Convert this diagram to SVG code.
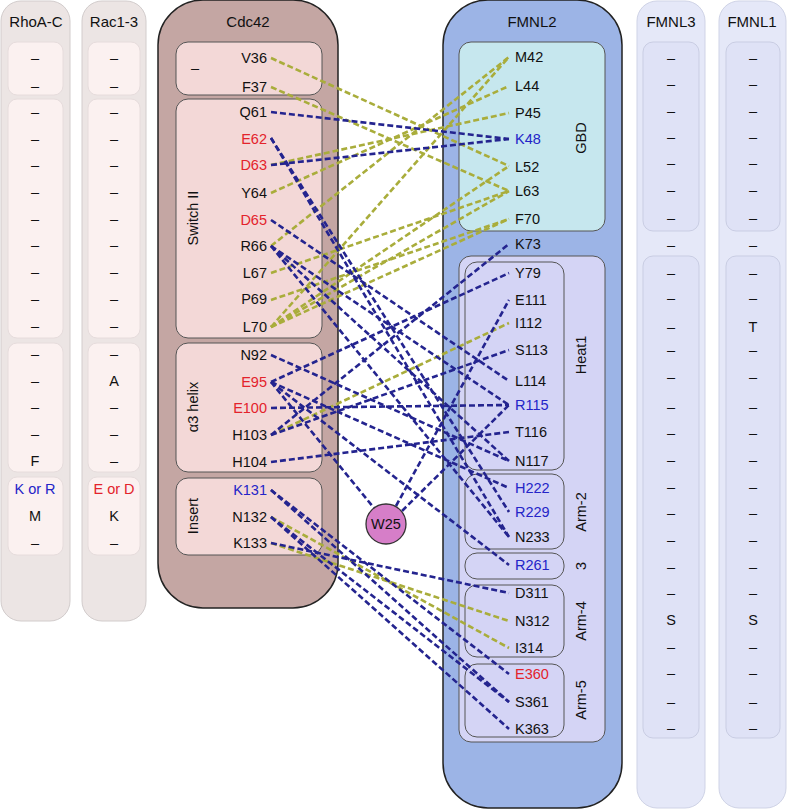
<svg xmlns="http://www.w3.org/2000/svg" width="788" height="810" viewBox="0 0 788 810">
<style>
text{font-family:"Liberation Sans",Arial,sans-serif;font-size:14.5px;fill:#111}
.t{text-anchor:middle}
.r{text-anchor:end}
.ttl{font-size:15px}
.red{fill:#e3232b}
.blu{fill:#2424c8}
.side{fill:#ece5e4;stroke:#d2cccc;stroke-width:1}
.sidein{fill:#fbf1f0;stroke:#e6dcdc;stroke-width:1}
.sideB{fill:#e5e8f8;stroke:#cfd3e6;stroke-width:1}
.sideBin{fill:#dfe2f6;stroke:#c9cde3;stroke-width:1}
.cdc{fill:#c4a6a3;stroke:#222;stroke-width:1.5}
.cin{fill:#f3d8d7;stroke:#555;stroke-width:1}
.fm{fill:#9cb4e6;stroke:#222;stroke-width:1.5}
.gbd{fill:#c6e7ee;stroke:#555;stroke-width:1}
.lav{fill:#d4d4f5;stroke:#555;stroke-width:1}
.sub{fill:none;stroke:#555;stroke-width:1}
.y{stroke:#a9ad3b;stroke-width:2.6;stroke-dasharray:6 3;fill:none}
.b{stroke:#24248f;stroke-width:2.6;stroke-dasharray:6 3;fill:none}
</style>

<g id="RhoA-C">
<rect class="side" x="1" y="1" width="69" height="620" rx="20"/>
<text class="t ttl" x="36" y="27">RhoA-C</text>
<rect class="sidein" x="8" y="42" width="55" height="53" rx="9"/>
<rect class="sidein" x="8" y="99" width="55" height="239" rx="9"/>
<rect class="sidein" x="8" y="343" width="55" height="129" rx="9"/>
<rect class="sidein" x="8" y="477" width="55" height="78" rx="9"/>
<g class="t">
<text x="35" y="63">–</text><text x="35" y="91">–</text><text x="35" y="117">–</text><text x="35" y="144">–</text><text x="35" y="170">–</text><text x="35" y="197">–</text><text x="35" y="224">–</text><text x="35" y="250">–</text><text x="35" y="277">–</text><text x="35" y="304">–</text><text x="35" y="331">–</text><text x="35" y="359">–</text><text x="35" y="386">–</text><text x="35" y="412">–</text><text x="35" y="439">–</text><text x="35" y="466">F</text><text x="35" y="494" class="t blu">K or R</text><text x="35" y="521">M</text><text x="35" y="548">–</text>
</g>
</g>

<g id="Rac1-3">
<rect class="side" x="82" y="1" width="64" height="620" rx="20"/>
<text class="t ttl" x="114" y="27">Rac1-3</text>
<rect class="sidein" x="88" y="42" width="52" height="53" rx="9"/>
<rect class="sidein" x="88" y="99" width="52" height="239" rx="9"/>
<rect class="sidein" x="88" y="343" width="52" height="129" rx="9"/>
<rect class="sidein" x="88" y="477" width="52" height="78" rx="9"/>
<g class="t">
<text x="114" y="63">–</text><text x="114" y="91">–</text><text x="114" y="117">–</text><text x="114" y="144">–</text><text x="114" y="170">–</text><text x="114" y="197">–</text><text x="114" y="224">–</text><text x="114" y="250">–</text><text x="114" y="277">–</text><text x="114" y="304">–</text><text x="114" y="331">–</text><text x="114" y="359">–</text><text x="114" y="386">A</text><text x="114" y="412">–</text><text x="114" y="439">–</text><text x="114" y="466">–</text><text x="114" y="494" class="t red">E or D</text><text x="114" y="521">K</text><text x="114" y="548">–</text>
</g>
</g>

<g id="Cdc42">
<rect class="cdc" x="158" y="0" width="180" height="608" rx="45"/>
<text class="t ttl" x="248" y="27">Cdc42</text>
<rect class="cin" x="176" y="42" width="146" height="53" rx="12"/>
<rect class="cin" x="176" y="99" width="146" height="239" rx="12"/>
<rect class="cin" x="176" y="343" width="146" height="129" rx="12"/>
<rect class="cin" x="176" y="478" width="146" height="77" rx="12"/>
<text class="t" x="195" y="73">–</text>
<text class="t" transform="translate(198,218) rotate(-90)">Switch II</text>
<text class="t" transform="translate(198,407) rotate(-90)">α3 helix</text>
<text class="t" transform="translate(198,516) rotate(-90)">Insert</text>
<g class="r">
<text x="267" y="63">V36</text>
<text x="267" y="92">F37</text>
<text x="267" y="117">Q61</text>
<text x="267" y="144" class="r red">E62</text>
<text x="267" y="170" class="r red">D63</text>
<text x="267" y="198">Y64</text>
<text x="267" y="225" class="r red">D65</text>
<text x="267" y="251">R66</text>
<text x="267" y="278">L67</text>
<text x="267" y="304">P69</text>
<text x="267" y="332">L70</text>
<text x="267" y="360">N92</text>
<text x="267" y="387" class="r red">E95</text>
<text x="267" y="413" class="r red">E100</text>
<text x="267" y="440">H103</text>
<text x="267" y="467">H104</text>
<text x="267" y="495" class="r blu">K131</text>
<text x="267" y="522">N132</text>
<text x="267" y="548">K133</text>
</g>
</g>

<g id="FMNL2">
<rect class="fm" x="443" y="0" width="179" height="808" rx="45"/>
<text class="t ttl" x="532" y="27">FMNL2</text>
<rect class="gbd" x="459" y="42" width="146" height="189" rx="12"/>
<text class="t" transform="translate(586,138) rotate(-90)">GBD</text>
<rect class="lav" x="459" y="256" width="146" height="486" rx="12"/>
<rect class="sub" x="465" y="262" width="99" height="208" rx="12"/>
<rect class="sub" x="465" y="474" width="99" height="75" rx="12"/>
<rect class="sub" x="465" y="553" width="99" height="26" rx="12"/>
<rect class="sub" x="465" y="585" width="99" height="72" rx="12"/>
<rect class="sub" x="465" y="664" width="99" height="73" rx="12"/>
<text class="t" transform="translate(586,355) rotate(-90)">Heat1</text>
<text class="t" transform="translate(586,512) rotate(-90)">Arm-2</text>
<text class="t" transform="translate(586,566) rotate(-90)">3</text>
<text class="t" transform="translate(586,621) rotate(-90)">Arm-4</text>
<text class="t" transform="translate(586,700) rotate(-90)">Arm-5</text>
<text x="515" y="62">M42</text>
<text x="515" y="91">L44</text>
<text x="515" y="118">P45</text>
<text x="515" y="144" class="blu">K48</text>
<text x="515" y="172">L52</text>
<text x="515" y="196">L63</text>
<text x="515" y="224">F70</text>
<text x="515" y="249">K73</text>
<text x="515" y="278">Y79</text>
<text x="515" y="305">E111</text>
<text x="515" y="328">I112</text>
<text x="515" y="355">S113</text>
<text x="515" y="386">L114</text>
<text x="515" y="410" class="blu">R115</text>
<text x="515" y="437">T116</text>
<text x="515" y="466">N117</text>
<text x="515" y="493" class="blu">H222</text>
<text x="515" y="517" class="blu">R229</text>
<text x="515" y="542">N233</text>
<text x="515" y="570" class="blu">R261</text>
<text x="515" y="598">D311</text>
<text x="515" y="626">N312</text>
<text x="515" y="653">I314</text>
<text x="515" y="679" class="red">E360</text>
<text x="515" y="707">S361</text>
<text x="515" y="734">K363</text>
</g>

<g id="FMNL3">
<rect class="sideB" x="637" y="1" width="68" height="807" rx="20"/>
<text class="t ttl" x="671" y="27">FMNL3</text>
<rect class="sideBin" x="643" y="42" width="56" height="189" rx="10"/>
<rect class="sideBin" x="643" y="256" width="56" height="482" rx="10"/>
<g class="t">
<text x="671" y="63">–</text><text x="671" y="89">–</text><text x="671" y="116">–</text><text x="671" y="142">–</text><text x="671" y="168">–</text><text x="671" y="195">–</text><text x="671" y="223">–</text><text x="671" y="250">–</text><text x="671" y="278">–</text><text x="671" y="303">–</text><text x="671" y="332">–</text><text x="671" y="355">–</text><text x="671" y="382">–</text><text x="671" y="412">–</text><text x="671" y="438">–</text><text x="671" y="465">–</text><text x="671" y="492">–</text><text x="671" y="518">–</text><text x="671" y="545">–</text><text x="671" y="572">–</text><text x="671" y="598">–</text><text x="671" y="625">S</text><text x="671" y="652">–</text><text x="671" y="678">–</text><text x="671" y="707">–</text><text x="671" y="733">–</text>
</g>
</g>

<g id="FMNL1">
<rect class="sideB" x="719" y="1" width="67" height="807" rx="20"/>
<text class="t ttl" x="752" y="27">FMNL1</text>
<rect class="sideBin" x="726" y="42" width="54" height="189" rx="10"/>
<rect class="sideBin" x="726" y="256" width="54" height="482" rx="10"/>
<g class="t">
<text x="753" y="63">–</text><text x="753" y="89">–</text><text x="753" y="116">–</text><text x="753" y="142">–</text><text x="753" y="168">–</text><text x="753" y="195">–</text><text x="753" y="223">–</text><text x="753" y="250">–</text><text x="753" y="278">–</text><text x="753" y="303">–</text><text x="753" y="332">T</text><text x="753" y="355">–</text><text x="753" y="382">–</text><text x="753" y="412">–</text><text x="753" y="438">–</text><text x="753" y="465">–</text><text x="753" y="492">–</text><text x="753" y="518">–</text><text x="753" y="545">–</text><text x="753" y="572">–</text><text x="753" y="598">–</text><text x="753" y="625">S</text><text x="753" y="652">–</text><text x="753" y="678">–</text><text x="753" y="707">–</text><text x="753" y="733">–</text>
</g>
</g>

<g id="connectors">
<line class="y" x1="271" y1="58" x2="509" y2="166"/>
<line class="y" x1="271" y1="87" x2="509" y2="191"/>
<line class="y" x1="271" y1="165" x2="509" y2="113"/>
<line class="y" x1="271" y1="193" x2="509" y2="86"/>
<line class="y" x1="271" y1="246" x2="509" y2="57"/>
<line class="y" x1="271" y1="273" x2="509" y2="191"/>
<line class="y" x1="271" y1="300" x2="509" y2="219"/>
<line class="y" x1="271" y1="327" x2="509" y2="57"/>
<line class="y" x1="271" y1="327" x2="509" y2="166"/>
<line class="y" x1="271" y1="327" x2="509" y2="191"/>
<line class="y" x1="271" y1="327" x2="509" y2="219"/>
<line class="y" x1="271" y1="435" x2="509" y2="323"/>
<line class="y" x1="271" y1="517" x2="509" y2="648"/>
<line class="y" x1="271" y1="543" x2="509" y2="621"/>

<line class="b" x1="271" y1="112" x2="509" y2="139"/>
<line class="b" x1="271" y1="165" x2="509" y2="139"/>
<line class="b" x1="271" y1="138" x2="509" y2="512"/>
<line class="b" x1="271" y1="138" x2="509" y2="537"/>
<line class="b" x1="271" y1="220" x2="509" y2="381"/>
<line class="b" x1="271" y1="246" x2="509" y2="405"/>
<line class="b" x1="271" y1="246" x2="509" y2="461"/>
<line class="b" x1="271" y1="246" x2="509" y2="537"/>
<line class="b" x1="271" y1="355" x2="509" y2="461"/>
<line class="b" x1="271" y1="382" x2="374" y2="508"/>
<line class="b" x1="271" y1="382" x2="509" y2="273"/>
<line class="b" x1="271" y1="382" x2="509" y2="488"/>
<line class="b" x1="271" y1="382" x2="509" y2="565"/>
<line class="b" x1="271" y1="408" x2="509" y2="405"/>
<line class="b" x1="271" y1="435" x2="509" y2="244"/>
<line class="b" x1="271" y1="435" x2="509" y2="350"/>
<line class="b" x1="271" y1="462" x2="509" y2="432"/>
<line class="b" x1="396" y1="506" x2="509" y2="300"/>
<line class="b" x1="402" y1="511" x2="509" y2="405"/>
<line class="b" x1="271" y1="490" x2="509" y2="674"/>
<line class="b" x1="271" y1="490" x2="509" y2="702"/>
<line class="b" x1="271" y1="517" x2="509" y2="702"/>
<line class="b" x1="271" y1="517" x2="509" y2="729"/>
<line class="b" x1="271" y1="543" x2="509" y2="593"/>
</g>

<g id="W25">
<circle cx="386" cy="524" r="20" fill="#d67ec8" stroke="#333" stroke-width="1.3"/>
<text class="t" x="386" y="529">W25</text>
</g>
</svg>
